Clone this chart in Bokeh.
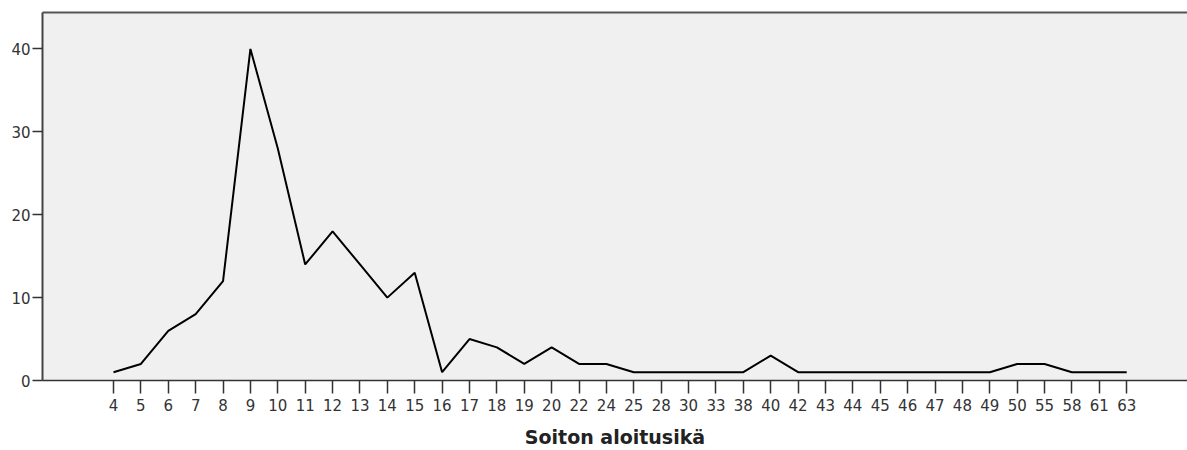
from bokeh.plotting import figure
from bokeh.models import FixedTicker, LinearAxis, Range1d
from bokeh.embed import file_html
from bokeh.resources import INLINE

ages = ["4", "5", "6", "7", "8", "9", "10", "11", "12", "13", "14", "15", "16", "17",
        "18", "19", "20", "22", "24", "25", "28", "30", "33", "38", "40", "42", "43",
        "44", "45", "46", "47", "48", "49", "50", "55", "58", "61", "63"]
counts = [1, 2, 6, 8, 12, 40, 28, 14, 18, 14, 10, 13, 1, 5,
          4, 2, 4, 2, 2, 1, 1, 1, 1, 1, 3, 1, 1,
          1, 1, 1, 1, 1, 1, 2, 2, 1, 1, 1]
y_ticks = [0, 10, 20, 30, 40]
x_label = "Soiton aloitusikä"

xs = list(range(len(ages)))

FONT = "DejaVu Sans"
TXT = "#333333"

p = figure(width=1187, height=450, output_backend="svg", toolbar_location=None,
           x_range=Range1d(-2.593, 39.22), y_range=Range1d(0, 44.4),
           min_border_left=42, min_border_top=12, min_border_right=0, min_border_bottom=70,
           background_fill_color="#f0f0f0", border_fill_color="white",
           outline_line_color=None)
p.xgrid.visible = False
p.ygrid.visible = False

p.line(xs, counts, line_color="black", line_width=2)

# x axis
xa = p.xaxis[0]
xa.ticker = FixedTicker(ticks=xs)
xa.major_label_overrides = {i: a for i, a in enumerate(ages)}
xa.major_tick_out = 13
xa.major_tick_in = 0
xa.minor_tick_line_color = None
xa.major_tick_line_color = "#333333"
xa.major_tick_line_width = 1.5
xa.axis_line_color = "#333333"
xa.axis_line_width = 1.5
xa.major_label_text_font = FONT
xa.major_label_text_font_size = "15px"
xa.major_label_text_color = TXT
xa.major_label_standoff = 5
xa.axis_label = x_label
xa.axis_label_text_font = FONT
xa.axis_label_text_font_size = "19px"
xa.axis_label_text_font_style = "bold"
xa.axis_label_text_color = "#222222"
xa.axis_label_standoff = 12

# y axis
ya = p.yaxis[0]
ya.ticker = FixedTicker(ticks=y_ticks)
ya.major_tick_out = 10
ya.major_tick_in = 0
ya.minor_tick_line_color = None
ya.major_tick_line_color = "#333333"
ya.major_tick_line_width = 1.5
ya.axis_line_color = "#444444"
ya.axis_line_width = 2
ya.major_label_text_font = FONT
ya.major_label_text_font_size = "15px"
ya.major_label_text_color = TXT
ya.major_label_standoff = 2

# top border line
top = LinearAxis(ticker=FixedTicker(ticks=[]), major_label_text_font_size="0px",
                 major_tick_out=0, major_tick_in=0, minor_tick_out=0, minor_tick_in=0,
                 major_tick_line_color=None, minor_tick_line_color=None,
                 axis_line_color="#555555", axis_line_width=2)
p.add_layout(top, "above")

open("out.html", "w").write(file_html(p, INLINE))
